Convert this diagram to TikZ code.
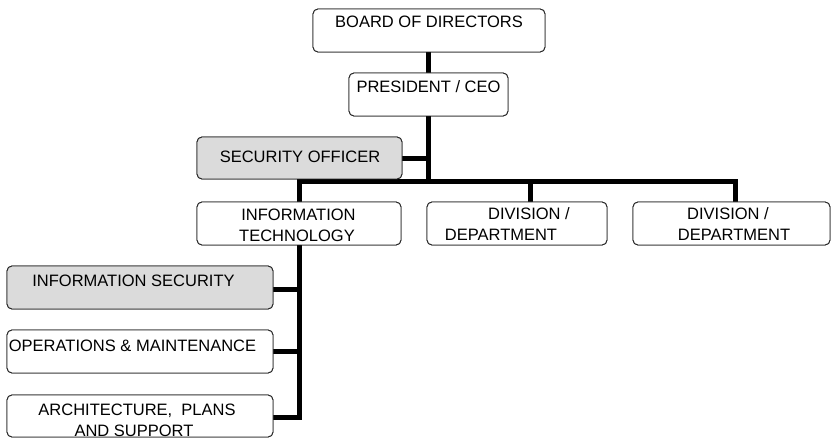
\documentclass[tikz,border=0pt]{standalone}
\usepackage{fontspec}
\setmainfont{Liberation Sans}
\begin{document}
\begin{tikzpicture}[x=1pt,y=-1pt,
  orgbox/.style={draw=black!85, line width=0.9pt, rounded corners=5pt, fill=white,
    minimum height=43pt, inner sep=0pt, outer sep=0pt},
  shaded/.style={fill=black!14},
  caption/.style={anchor=base, inner sep=0pt, font=\fontsize{16.5}{20}\selectfont},
  link/.style={line width=5pt, black, line join=miter}]
\useasboundingbox (0,0) rectangle (833,438);

% boxes
\node[orgbox, minimum width=232pt] (board) at (429,30.5) {};
\node[orgbox, minimum width=159pt] (ceo) at (428.5,94.5) {};
\node[orgbox, shaded, minimum width=205pt, minimum height=42pt] (sec) at (299.5,158) {};
\node[orgbox, minimum width=204pt] (it) at (299,223.5) {};
\node[orgbox, minimum width=180pt] (div1) at (517,223.5) {};
\node[orgbox, minimum width=197pt] (div2) at (731.5,223.5) {};
\node[orgbox, shaded, minimum width=266pt] (infosec) at (140,287.5) {};
\node[orgbox, minimum width=266pt] (ops) at (140,351.5) {};
\node[orgbox, minimum width=266pt, minimum height=42pt] (arch) at (140,416) {};

% junction points of the connector lines
\coordinate (bus) at (428,182);
\coordinate (busL) at (299,182);
\coordinate (busR) at (735,182);
\coordinate (spine) at (299,417);

% connectors
\begin{scope}[on background layer/.try]
\draw[link] (board.south -| bus) -- (ceo.north -| bus);
\draw[link] (ceo.south -| bus) -- (bus);
\draw[link] (sec.east |- 0,159) -- (428,159);
\draw[link] (it.north -| busL) -- (busL) -- (busR) -- (div2.north -| busR);
\draw[link] (div1.north -| 530,0) -- (530,182);
\draw[link] (it.south -| spine) -- (spine) -- (arch.east |- spine);
\draw[link] (infosec.east |- 0,290) -- (299,290);
\draw[link] (ops.east |- 0,352) -- (299,352);
\end{scope}

% redraw boxes over line ends
\foreach \n in {board,ceo,it,div1,div2,ops,arch}{
  \draw[draw=black!85, line width=0.9pt, rounded corners=5pt, fill=white]
    (\n.south west) rectangle (\n.north east);}
\foreach \n in {sec,infosec}{
  \draw[draw=black!85, line width=0.9pt, rounded corners=5pt, fill=black!14]
    (\n.south west) rectangle (\n.north east);}

% labels
\node[caption] (tboard) at (429,28) {BOARD OF DIRECTORS};
\node[caption] (tceo) at (428.5,92.5) {PRESIDENT / CEO};
\node[caption] (tsec) at (300,163) {SECURITY OFFICER};
\node[caption] (tit1) at (298.5,221) {INFORMATION};
\node[caption] (tit2) at (297,242) {TECHNOLOGY};
\node[caption] (td1a) at (529,220) {DIVISION /};
\node[caption] (td1b) at (501,241) {DEPARTMENT};
\node[caption] (td2a) at (728,220) {DIVISION /};
\node[caption] (td2b) at (734,241) {DEPARTMENT};
\node[caption] (tinfosec) at (133.5,287) {INFORMATION SECURITY};
\node[caption] (tops) at (132.5,352) {OPERATIONS \& MAINTENANCE};
\node[caption] (tarch1) at (137,415) {ARCHITECTURE,\ \ PLANS};
\node[caption] (tarch2) at (134,436) {AND SUPPORT};
\end{tikzpicture}
\end{document}
